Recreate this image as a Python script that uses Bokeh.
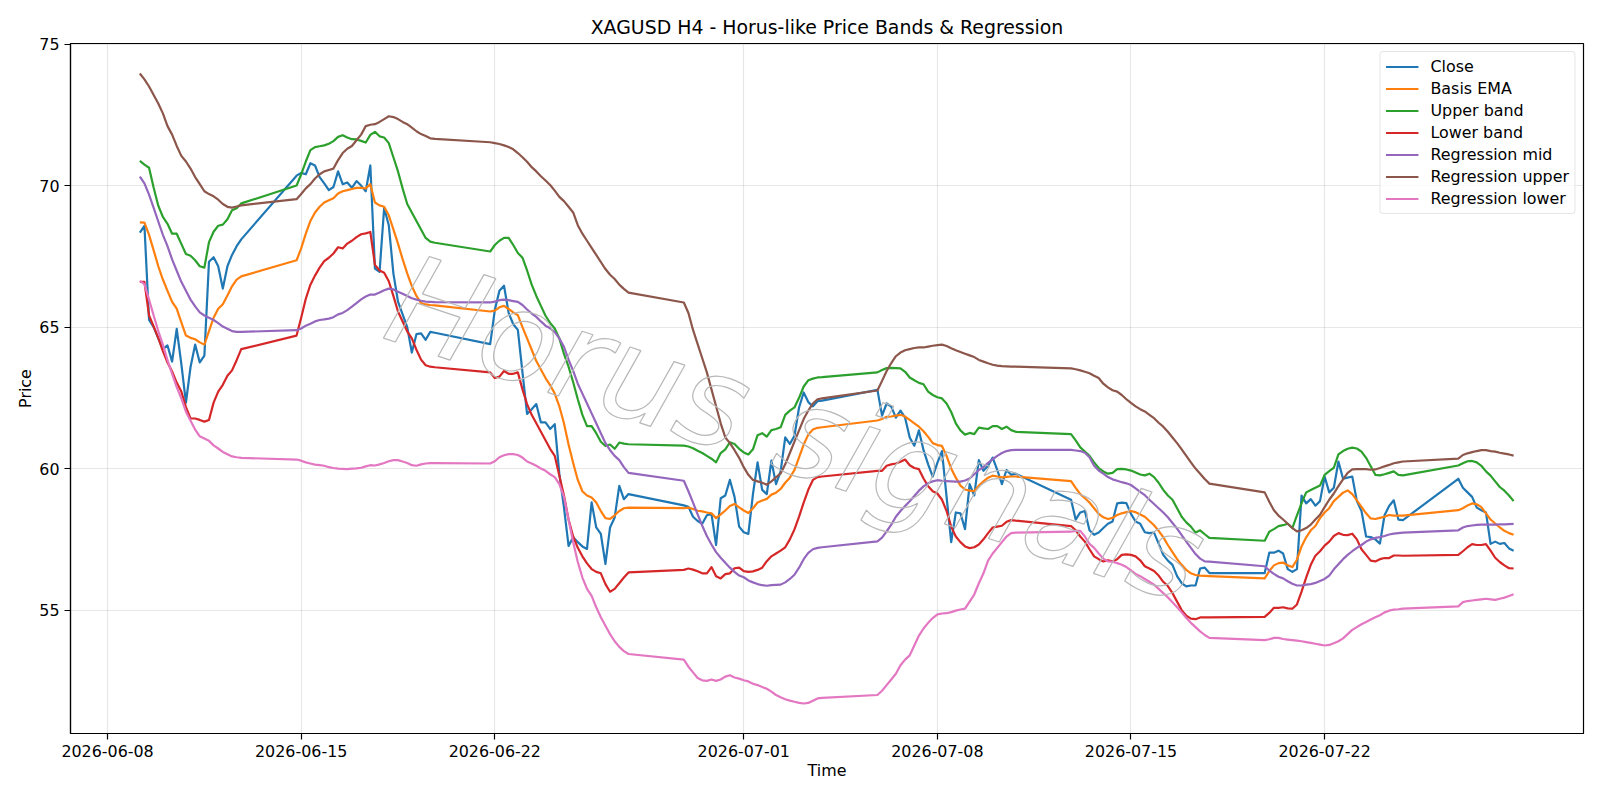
from datetime import datetime, timedelta
import pandas as pd
from bokeh.plotting import figure
from bokeh.models import Range1d, FixedTicker, DatetimeTickFormatter, ColumnDataSource
from bokeh.embed import file_html
from bokeh.resources import INLINE
from bokeh.core.properties import value

chart_title = "XAGUSD H4 - Horus-like Price Bands & Regression"
x_label = "Time"
y_label = "Price"
watermark_text = "Horus signals"

# H4 bar timestamps (UTC), weekend gaps: Fri 20:00 -> Sun 20:00
first_bar = "2026-06-09 04:00"
last_bar = "2026-07-28 20:00"

close = [
    68.34, 68.58, 65.25, 65.0, 64.6, 64.22, 64.35, 63.78, 64.94, 63.7, 62.33, 63.59, 64.38, 63.75, 63.99, 67.31, 67.47, 67.15, 66.36, 67.15, 67.55, 67.86, 68.10,
    70.35, 70.45, 70.4, 70.79, 70.71, 70.3, 70.08, 69.84, 69.95, 70.5, 70.05, 70.11, 69.92, 70.16, 70.0, 69.8, 70.71, 67.07, 66.95, 69.21, 68.6, 66.9, 65.9, 65.45, 65.0, 64.1, 64.75, 64.78, 64.55, 64.83, 64.8,
    64.4, 65.6, 66.28, 66.46, 65.5, 65.1, 64.9, 63.4, 61.93, 62.1, 62.28, 61.63, 61.63, 61.4, 61.57, 59.81, 58.63, 57.27, 57.57, 57.4, 57.25, 57.16, 58.81, 57.92, 57.69, 56.63, 57.92, 58.27, 59.39, 58.92, 59.1,
    58.7, 58.65, 58.3, 58.15, 58.05, 58.35, 58.4, 57.3, 58.95, 59.05, 59.6, 59.0, 57.95, 57.75, 57.69, 59.1, 60.22, 59.25, 59.1, 60.28, 59.45, 59.9, 61.1, 60.87, 61.16, 62.16, 62.69, 62.35, 62.2, 62.38, 62.4,
    62.78, 61.87, 62.3, 62.19, 61.8, 62.05, 61.8, 61.1, 60.81, 61.35, 60.65, 60.15, 59.72, 60.2, 60.62, 59.0, 57.4, 58.45, 58.42, 57.86, 59.45, 59.05, 60.3, 59.92, 60.1, 60.39, 59.95, 59.45, 59.95, 59.78, 59.82,
    58.9, 58.2, 58.45, 58.5, 57.82, 57.66, 57.74, 57.9, 58.05, 58.13, 58.77, 58.8, 58.78, 58.4, 58.13, 58.05, 57.75, 57.72, 57.74, 57.35, 56.95, 56.75, 56.6, 56.2, 55.95, 55.84, 55.87, 55.87, 56.47, 56.5, 56.31,
    56.31, 57.03, 57.03, 57.1, 57.0, 56.45, 56.35, 56.45, 59.05, 58.77, 58.92, 58.69, 58.85, 59.72, 59.16, 59.32, 60.25, 59.64, 59.68, 59.72, 58.85, 58.5, 57.6, 57.58, 57.5, 57.35, 58.35, 58.68, 58.88, 58.2, 58.18,
    59.64, 59.32, 59.16, 59.0, 58.62, 58.53, 58.45, 57.34, 57.42, 57.34, 57.37, 57.18, 57.1,
]

basis_ema = [
    68.7, 68.69, 68.26, 67.71, 67.15, 66.68, 66.28, 65.89, 65.65, 65.17, 64.7, 64.62, 64.57, 64.46, 64.38, 64.86, 65.33, 65.65, 65.81, 66.12, 66.44, 66.68, 66.79,
    67.36, 67.78, 68.3, 68.75, 69.05, 69.25, 69.4, 69.48, 69.55, 69.72, 69.8, 69.84, 69.88, 69.92, 69.92, 69.9, 70.05, 69.4, 69.3, 69.25, 68.95, 68.45, 67.95, 67.4, 66.9, 66.45, 66.1, 65.85, 65.8, 65.78, 65.77,
    65.55, 65.58, 65.7, 65.75, 65.64, 65.52, 65.42, 65.0, 64.6, 64.2, 63.8, 63.5, 63.2, 62.95, 62.65, 62.2, 61.6, 60.85, 60.2, 59.6, 59.2, 59.05, 58.98, 58.8, 58.5, 58.25, 58.22, 58.35, 58.5, 58.6, 58.62,
    58.6, 58.62, 58.57, 58.51, 58.49, 58.45, 58.42, 58.25, 58.38, 58.52, 58.68, 58.75, 58.63, 58.52, 58.43, 58.6, 58.8, 58.87, 58.93, 59.08, 59.15, 59.28, 59.5, 59.68, 59.95, 60.4, 60.85, 61.2, 61.38, 61.44, 61.46,
    61.7, 61.75, 61.83, 61.84, 61.87, 61.9, 61.84, 61.72, 61.6, 61.48, 61.32, 61.12, 60.9, 60.83, 60.8, 60.45, 60.0, 59.68, 59.4, 59.26, 59.22, 59.2, 59.4, 59.55, 59.68, 59.75, 59.72, 59.69, 59.71, 59.72, 59.72,
    59.56, 59.32, 59.1, 58.95, 58.8, 58.6, 58.4, 58.28, 58.22, 58.26, 58.36, 58.42, 58.46, 58.5, 58.46, 58.38, 58.3, 58.15, 58.0, 57.8, 57.58, 57.3, 57.05, 56.8, 56.6, 56.42, 56.3, 56.24, 56.22, 56.21, 56.2,
    56.12, 56.38, 56.58, 56.66, 56.68, 56.58, 56.52, 56.78, 57.25, 57.57, 57.82, 57.97, 58.25, 58.45, 58.6, 58.85, 59.0, 59.15, 59.23, 59.1, 58.88, 58.65, 58.42, 58.24, 58.22, 58.26, 58.3, 58.36, 58.34, 58.34, 58.34,
    58.53, 58.6, 58.7, 58.77, 58.74, 58.64, 58.42, 58.2, 58.06, 57.92, 57.8, 57.72, 57.66,
]

upper_band = [
    70.87, 70.74, 70.63, 69.92, 69.29, 68.89, 68.65, 68.3, 68.3, 67.94, 67.58, 67.52, 67.36, 67.15, 67.1, 68.0, 68.37, 68.58, 68.62, 68.81, 69.13, 69.2, 69.37,
    70.0, 70.4, 70.85, 71.25, 71.36, 71.39, 71.42, 71.48, 71.57, 71.72, 71.78, 71.7, 71.64, 71.63, 71.58, 71.52, 71.79, 71.9, 71.74, 71.7, 71.5, 71.0, 70.5, 69.9, 69.35, 69.05, 68.75, 68.45, 68.15, 68.02, 67.98,
    67.67, 67.9, 68.05, 68.15, 68.15, 67.9, 67.62, 67.45, 67.0, 66.5, 66.1, 65.75, 65.4, 65.15, 64.95, 64.6, 64.05, 63.6, 63.05, 62.45, 61.9, 61.5, 61.5, 61.25, 60.95, 60.8, 60.85, 60.7, 60.92, 60.88, 60.86,
    60.81, 60.78, 60.72, 60.63, 60.55, 60.45, 60.35, 60.22, 60.55, 60.68, 60.93, 60.87, 60.7, 60.57, 60.5, 60.68, 61.18, 61.25, 61.13, 61.36, 61.4, 61.46, 61.9, 62.05, 62.16, 62.5, 62.9, 63.12, 63.18, 63.22, 63.23,
    63.4, 63.48, 63.55, 63.56, 63.55, 63.54, 63.42, 63.22, 63.12, 63.03, 62.98, 62.72, 62.6, 62.52, 62.48, 62.3, 62.0, 61.6, 61.35, 61.2, 61.26, 61.22, 61.45, 61.42, 61.4, 61.5, 61.5, 61.4, 61.48, 61.36, 61.3,
    61.22, 61.0, 60.75, 60.6, 60.45, 60.22, 60.02, 59.9, 59.82, 59.85, 59.98, 59.99, 59.97, 59.93, 59.86, 59.79, 59.76, 59.82, 59.7, 59.5, 59.25, 59.05, 58.9, 58.6, 58.3, 58.1, 57.95, 57.74, 57.82, 57.68, 57.55,
    57.45, 57.77, 57.86, 57.97, 58.0, 58.05, 57.9, 58.35, 58.77, 59.16, 59.24, 59.32, 59.4, 59.78, 59.91, 60.03, 60.5, 60.62, 60.7, 60.74, 60.71, 60.6, 60.38, 60.08, 59.78, 59.76, 59.8, 59.85, 59.9, 59.78, 59.76,
    60.11, 60.19, 60.26, 60.27, 60.22, 60.1, 59.9, 59.75, 59.55, 59.35, 59.22, 59.05, 58.85,
]

lower_band = [
    66.6, 66.6, 65.41, 65.02, 64.62, 64.15, 63.75, 63.43, 63.04, 62.72, 62.17, 61.77, 61.77, 61.72, 61.66, 61.72, 62.33, 62.72, 62.96, 63.28, 63.47, 63.83, 64.22,
    64.7, 65.33, 66.0, 66.5, 66.82, 67.1, 67.33, 67.45, 67.6, 67.82, 67.78, 67.95, 68.05, 68.18, 68.28, 68.31, 68.36, 67.2, 67.0, 66.92, 66.62, 66.1, 65.55, 65.2, 64.85, 64.6, 64.2, 63.85, 63.65, 63.6, 63.58,
    63.4, 63.2, 63.25, 63.45, 63.35, 63.35, 63.4, 62.8, 62.28, 61.9, 61.6, 61.3, 61.0, 60.7, 60.45, 59.75, 59.05, 58.2, 57.6, 57.2, 56.9, 56.65, 56.45, 56.35, 56.3, 55.92, 55.65, 55.75, 55.95, 56.15, 56.33,
    56.42, 56.47, 56.43, 56.37, 56.3, 56.3, 56.52, 56.2, 56.12, 56.27, 56.3, 56.48, 56.5, 56.38, 56.35, 56.37, 56.42, 56.5, 56.73, 56.9, 57.0, 57.1, 57.22, 57.5, 57.85, 58.3, 58.8, 59.25, 59.6, 59.7, 59.72,
    59.92, 59.92, 60.1, 60.15, 60.18, 60.24, 60.32, 60.12, 60.02, 59.98, 59.65, 59.38, 59.2, 59.12, 58.9, 58.5, 57.95, 57.6, 57.4, 57.25, 57.19, 57.22, 57.32, 57.5, 57.72, 57.92, 57.95, 57.98, 58.12, 58.18, 58.16,
    57.97, 57.82, 57.6, 57.42, 57.15, 56.9, 56.8, 56.72, 56.76, 56.72, 56.8, 56.95, 56.97, 56.95, 56.9, 56.76, 56.55, 56.47, 56.38, 56.22, 56.0, 55.85, 55.6, 55.3, 55.0, 54.8, 54.7, 54.68, 54.74, 54.74, 54.74,
    54.76, 54.9, 55.08, 55.08, 55.1, 55.06, 55.05, 55.2, 55.65, 56.15, 56.6, 56.92, 57.08, 57.28, 57.42, 57.62, 57.72, 57.66, 57.65, 57.7, 57.5, 57.15, 56.95, 56.75, 56.72, 56.8, 56.84, 56.84, 56.93, 56.93, 56.92,
    56.95, 57.08, 57.22, 57.33, 57.3, 57.3, 57.33, 57.1, 56.85, 56.7, 56.58, 56.48, 56.47,
]

regression_mid = [
    70.32, 70.08, 69.68, 69.21, 68.73, 68.26, 67.86, 67.39, 66.99, 66.6, 66.28, 65.97, 65.73, 65.52, 65.41, 65.33, 65.25, 65.14, 65.02, 64.94, 64.86, 64.83, 64.83,
    64.89, 64.95, 65.05, 65.12, 65.2, 65.25, 65.27, 65.3, 65.35, 65.45, 65.5, 65.6, 65.72, 65.85, 65.98, 66.08, 66.15, 66.15, 66.22, 66.3, 66.36, 66.33, 66.25, 66.18, 66.1, 66.02, 65.97, 65.93, 65.9, 65.89, 65.88,
    65.87, 65.9, 65.95, 65.97, 65.95, 65.92, 65.89, 65.78, 65.62, 65.48, 65.36, 65.2, 65.05, 64.96, 64.82, 64.6, 64.3, 63.85, 63.45, 63.0, 62.65, 62.3, 61.95, 61.6, 61.25, 60.9, 60.65, 60.45, 60.3, 60.05, 59.85,
    59.57, 59.2, 58.8, 58.38, 57.98, 57.62, 57.32, 57.05, 56.85, 56.67, 56.5, 56.35, 56.22, 56.16, 56.05, 55.98, 55.92, 55.88, 55.86, 55.88, 55.89, 55.9, 55.98, 56.1, 56.25, 56.5, 56.8, 57.02, 57.15, 57.2, 57.22,
    57.43, 57.56, 57.78, 58.02, 58.3, 58.5, 58.68, 58.85, 59.03, 59.22, 59.37, 59.48, 59.55, 59.59, 59.57, 59.56, 59.55, 59.54, 59.54, 59.58, 59.65, 59.8, 59.95, 60.05, 60.2, 60.33, 60.45, 60.55, 60.62, 60.65, 60.66,
    60.66, 60.64, 60.62, 60.56, 60.4, 60.1, 59.93, 59.82, 59.7, 59.62, 59.57, 59.52, 59.48, 59.42, 59.3, 59.18, 59.06, 58.9, 58.75, 58.6, 58.45, 58.28, 58.08, 57.88, 57.65, 57.42, 57.2, 56.98, 56.82, 56.72, 56.71,
    56.55, 56.4, 56.28, 56.18, 56.12, 56.02, 55.93, 55.87, 55.87, 55.9, 55.92, 55.96, 56.03, 56.1, 56.22, 56.44, 56.62, 56.8, 56.95, 57.08, 57.2, 57.3, 57.42, 57.5, 57.55, 57.58, 57.62, 57.67, 57.7, 57.72, 57.74,
    57.82, 57.92, 57.97, 57.99, 58.01, 58.02, 58.02, 58.02, 58.02, 58.03, 58.03, 58.04, 58.05,
]

regression_upper = [
    73.96, 73.75, 73.5, 73.2, 72.9, 72.55, 72.1, 71.8, 71.4, 71.05, 70.85, 70.6, 70.3, 70.05, 69.8, 69.7, 69.62, 69.5, 69.35, 69.25, 69.22, 69.26, 69.3,
    69.52, 69.7, 69.9, 70.05, 70.25, 70.4, 70.5, 70.55, 70.6, 70.9, 71.15, 71.3, 71.4, 71.6, 71.8, 72.1, 72.15, 72.17, 72.25, 72.35, 72.45, 72.42, 72.35, 72.25, 72.17, 72.05, 71.92, 71.82, 71.75, 71.67, 71.65,
    71.53, 71.5, 71.47, 71.42, 71.36, 71.28, 71.15, 71.0, 70.84, 70.65, 70.5, 70.33, 70.18, 70.02, 69.82, 69.6, 69.45, 69.25, 69.05, 68.6, 68.3, 68.05, 67.8, 67.55, 67.3, 67.05, 66.85, 66.7, 66.5, 66.35, 66.22,
    65.87, 65.5, 64.9, 64.4, 63.9, 63.4, 62.8, 62.2, 61.6, 61.1, 60.9, 60.65, 60.38, 60.05, 59.78, 59.6, 59.55, 59.5, 59.43, 59.55, 59.69, 59.83, 60.15, 60.55, 60.95, 61.35, 61.75, 62.05, 62.3, 62.45, 62.48,
    62.76, 63.1, 63.45, 63.73, 63.97, 64.1, 64.18, 64.22, 64.26, 64.28, 64.28, 64.31, 64.34, 64.36, 64.38, 64.33, 64.25, 64.18, 64.12, 64.06, 64.0, 63.94, 63.84, 63.78, 63.72, 63.67, 63.64, 63.62, 63.61, 63.6, 63.6,
    63.54, 63.51, 63.47, 63.42, 63.37, 63.28, 63.2, 63.0, 62.87, 62.77, 62.72, 62.6, 62.45, 62.32, 62.2, 62.1, 62.02, 61.9, 61.78, 61.62, 61.48, 61.3, 61.1, 60.9, 60.68, 60.45, 60.22, 60.0, 59.82, 59.63, 59.47,
    59.16, 58.83, 58.53, 58.34, 58.2, 58.05, 57.9, 57.78, 57.82, 57.9, 58.02, 58.2, 58.37, 58.64, 58.9, 59.12, 59.38, 59.62, 59.85, 59.97, 59.98, 59.98, 59.98, 59.96, 59.97, 60.02, 60.08, 60.13, 60.19, 60.22, 60.25,
    60.35, 60.48, 60.54, 60.58, 60.62, 60.65, 60.65, 60.62, 60.6, 60.56, 60.53, 60.5, 60.46,
]

regression_lower = [
    66.63, 66.52, 65.97, 65.41, 64.86, 64.38, 63.83, 63.35, 62.88, 62.48, 62.01, 61.69, 61.38, 61.14, 61.06, 60.98, 60.82, 60.71, 60.59, 60.51, 60.43, 60.4, 60.38,
    60.32, 60.28, 60.22, 60.18, 60.14, 60.12, 60.1, 60.05, 60.02, 60.0, 59.99, 59.98, 60.0, 60.01, 60.03, 60.08, 60.12, 60.11, 60.15, 60.2, 60.26, 60.3, 60.3, 60.25, 60.2, 60.12, 60.1, 60.15, 60.18, 60.19, 60.19,
    60.18, 60.26, 60.4, 60.47, 60.51, 60.51, 60.48, 60.39, 60.25, 60.18, 60.1, 60.0, 59.92, 59.8, 59.7, 59.45, 59.0, 58.2, 57.4, 56.7, 56.15, 55.75, 55.5, 55.1, 54.75, 54.45, 54.15, 53.9, 53.7, 53.55, 53.45,
    53.25, 53.0, 52.8, 52.6, 52.52, 52.5, 52.55, 52.5, 52.55, 52.65, 52.7, 52.62, 52.58, 52.52, 52.48, 52.4, 52.35, 52.28, 52.22, 52.12, 52.0, 51.92, 51.85, 51.8, 51.76, 51.72, 51.7, 51.72, 51.8, 51.88, 51.9,
    52.0, 52.15, 52.35, 52.55, 52.75, 53.05, 53.25, 53.4, 53.75, 54.1, 54.35, 54.55, 54.72, 54.85, 54.88, 54.89, 54.93, 54.98, 55.02, 55.05, 55.3, 55.55, 55.95, 56.3, 56.75, 57.0, 57.2, 57.4, 57.6, 57.72, 57.74,
    57.77, 57.8, 57.8, 57.6, 57.34, 57.2, 57.0, 56.82, 56.72, 56.71, 56.66, 56.6, 56.52, 56.4, 56.28, 56.2, 56.1, 56.0, 55.9, 55.75, 55.6, 55.45, 55.28, 55.1, 54.92, 54.72, 54.55, 54.4, 54.25, 54.12, 54.02,
    53.94, 53.97, 54.02, 54.02, 53.98, 53.96, 53.94, 53.92, 53.9, 53.87, 53.84, 53.81, 53.78, 53.75, 53.77, 53.83, 53.9, 54.0, 54.15, 54.3, 54.4, 54.5, 54.58, 54.67, 54.75, 54.82, 54.92, 54.98, 55.02, 55.03, 55.05,
    55.13, 55.28, 55.32, 55.34, 55.36, 55.38, 55.4, 55.38, 55.36, 55.4, 55.44, 55.5, 55.56,
]

series_labels = ["Close", "Basis EMA", "Upper band", "Lower band",
                 "Regression mid", "Regression upper", "Regression lower"]
series_colors = ["#1f77b4", "#ff7f0e", "#2ca02c", "#d62728",
                 "#9467bd", "#8c564b", "#e377c2"]
x_tick_labels = ["2026-06-08", "2026-06-15", "2026-06-22", "2026-07-01",
                 "2026-07-08", "2026-07-15", "2026-07-22"]
y_ticks = [55, 60, 65, 70, 75]

# ---- timestamps of the H4 bars (forex week: Sun 20:00 .. Fri 20:00 UTC)
all_slots = pd.date_range(first_bar, last_bar, freq="4h")
times = [t for t in all_slots if t.weekday() < 5 or (t.weekday() == 6 and t.hour == 20)]

series = [close, basis_ema, upper_band, lower_band,
          regression_mid, regression_upper, regression_lower]
for s in series:
    assert len(s) == len(times), (len(s), len(times))

cols = ["close", "ema", "up", "lo", "rmid", "rup", "rlo"]
src = ColumnDataSource(dict(t=times, **{c: s for c, s in zip(cols, series)}))

day0 = datetime(2026, 6, 8)
epoch = datetime(1970, 1, 1)
def ms(d):
    return (d - epoch).total_seconds() * 1000.0

FONT = "DejaVu Sans"
p = figure(width=1600, height=800, x_axis_type="datetime",
           output_backend="svg", toolbar_location=None,
           x_range=Range1d(day0 + timedelta(days=-1.34), day0 + timedelta(days=53.36)),
           y_range=Range1d(50.64, 75.02),
           min_border_left=70, min_border_right=17,
           min_border_top=43, min_border_bottom=67)

p.title.text = chart_title
p.title.align = "center"
p.title.text_font = FONT
p.title.text_font_size = "18.9px"
p.title.text_font_style = "normal"
p.title.text_color = "black"
p.title.standoff = 11

p.background_fill_color = "white"
p.border_fill_color = "white"
p.outline_line_color = "black"
p.outline_line_width = 1.2

tick_ms = [ms(datetime.strptime(s, "%Y-%m-%d")) for s in x_tick_labels]
p.xaxis.ticker = FixedTicker(ticks=tick_ms)
p.xgrid.ticker = FixedTicker(ticks=tick_ms)
fmt = "%Y-%m-%d"
p.xaxis.formatter = DatetimeTickFormatter(
    milliseconds=fmt, seconds=fmt, minsec=fmt, minutes=fmt, hourmin=fmt,
    hours=fmt, days=fmt, months=fmt, years=fmt)
p.yaxis.ticker = FixedTicker(ticks=y_ticks)
p.ygrid.ticker = FixedTicker(ticks=y_ticks)

for ax in (p.xaxis[0], p.yaxis[0]):
    ax.major_label_text_font = FONT
    ax.major_label_text_font_size = "15.9px"
    ax.major_label_text_color = "black"
    ax.axis_label_text_font = FONT
    ax.axis_label_text_font_size = "15.9px"
    ax.axis_label_text_font_style = "normal"
    ax.axis_label_text_color = "black"
    ax.major_tick_out = 6
    ax.major_tick_in = 0
    ax.minor_tick_out = 0
    ax.minor_tick_in = 0
    ax.major_tick_line_color = "black"
    ax.major_tick_line_width = 1.2
    ax.axis_line_color = "black"
    ax.axis_line_width = 1.2
    ax.major_label_standoff = 5
    ax.axis_label_standoff = 1

p.xaxis.axis_label = x_label
p.yaxis.axis_label = y_label

p.grid.grid_line_color = "#b0b0b0"
p.grid.grid_line_alpha = 0.3
p.grid.grid_line_width = 1.2

for c, lab, colr in zip(cols, series_labels, series_colors):
    p.line(x="t", y=c, source=src, line_color=colr, line_width=2.2,
           line_join="round", legend_label=lab)

# watermark
wm_x = day0 + timedelta(days=24.9)
wm_y = 61.4
wm_kwargs = dict(x=[wm_x], y=[wm_y], text=[watermark_text], angle=-0.32,
                 text_font=value(FONT), text_font_style="italic",
                 text_font_size="126px", text_align="center",
                 text_baseline="middle")
try:
    p.text(text_color="#ffffff00", text_outline_color="#b8b8b8", **wm_kwargs)
except Exception:
    p.text(text_color="#b0b0b0", text_alpha=0.35, **wm_kwargs)

lg = p.legend[0]
lg.location = "top_right"
lg.margin = 8
lg.padding = 5
lg.spacing = 3
lg.label_height = 19
lg.glyph_height = 19
lg.glyph_width = 33
lg.label_standoff = 12
lg.label_text_font = FONT
lg.label_text_font_size = "15.9px"
lg.label_text_color = "black"
lg.border_line_color = "#cccccc"
lg.border_line_width = 1
lg.background_fill_alpha = 0.8
try:
    lg.border_radius = 4
except Exception:
    pass

open("out.html", "w").write(file_html(p, INLINE))
